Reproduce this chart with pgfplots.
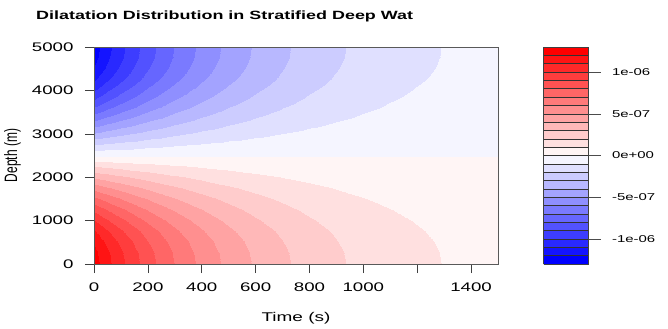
\documentclass[border=0pt]{standalone}
\usepackage{graphicx}
\usepackage{fontspec}
\setmainfont{Liberation Sans}[FakeStretch=1.5]
\newfontfamily\plainfont{Liberation Sans}
\usepackage{pgfplots}
\pgfplotsset{compat=1.18}
\begin{document}
\begin{tikzpicture}
\useasboundingbox (0,0) rectangle (668bp,329bp);
\node[anchor=base west, font=\fontsize{12}{14}\selectfont\bfseries, inner sep=0] at (36bp,309.5bp) {Dilatation Distribution in Stratified Deep Wat};
\begin{axis}[
  at={(94bp,65bp)}, anchor=south west,
  width=404bp, height=217bp, scale only axis,
  xmin=0, xmax=1500, ymin=0, ymax=5000,
  xtick={0,200,400,600,800,1000,1200,1400},
  xticklabels={0,200,400,600,800,1000,,1400},
  ytick={0,1000,2000,3000,4000,5000},
  yticklabels={0,1000,2000,3000,4000,5000},
  tick pos=left, tick align=outside, major tick length=9bp,
  ticklabel style={font=\fontsize{12.5}{14}\selectfont},
  xticklabel shift=6bp, yticklabel shift=8bp,
  axis on top,
  axis line style={black!65, line width=0.8pt},
  tick style={black!75, line width=0.6pt},
  xlabel={Time (s)},
  xlabel style={at={(axis description cs:0.5,-0.2488)}, anchor=center, font=\fontsize{12.7}{14}\selectfont},
  ylabel={\scalebox{1}[1.5]{\plainfont\fontsize{12}{14}\selectfont Depth (m)}},
  ylabel style={at={(axis description cs:-0.2017,0.5)}, anchor=center},
  colormap={bwr}{rgb255=(0,0,255) rgb255=(20,20,255) rgb255=(41,41,255) rgb255=(61,61,255) rgb255=(82,82,255) rgb255=(102,102,255) rgb255=(122,122,255) rgb255=(143,143,255) rgb255=(163,163,255) rgb255=(184,184,255) rgb255=(204,204,255) rgb255=(224,224,255) rgb255=(245,245,255) rgb255=(255,245,245) rgb255=(255,224,224) rgb255=(255,204,204) rgb255=(255,184,184) rgb255=(255,163,163) rgb255=(255,143,143) rgb255=(255,122,122) rgb255=(255,102,102) rgb255=(255,82,82) rgb255=(255,61,61) rgb255=(255,41,41) rgb255=(255,20,20) rgb255=(255,0,0)},
  colormap access=piecewise constant,
  point meta min=-13, point meta max=13,
  colorbar,
  colorbar style={
    at={(parent axis.north east)}, anchor=north west, xshift=37bp,
    width=45bp,
    ytick={-10,-5,0,5,10},
    yticklabels={-1e-06,-5e-07,0e+00,5e-07,1e-06},
    ytick pos=right, yticklabel pos=right,
    tick align=outside, major tick length=12bp,
    yticklabel shift=8bp,
    minor ytick={-13,-12,...,13}, minor tick length=0pt,
    yminorgrids, minor grid style={black!80, line width=0.5pt},
    axis on top,
    axis line style={black!75},
    yticklabel style={font=\fontsize{10}{12}\selectfont},
    tick style={black!70},
  },
]
% dilatation in units of 1e-7 ; columns: time (s), depth (m), value
\addplot[surf, shader=interp, mesh/cols=17, point meta=explicit]
table[row sep=\\, x=t, y=z, meta=v] {
t z v\\
0 0 12.5\\ 50 0 11.333\\ 100 0 10.274\\ 200 0 8.445\\ 300 0 6.941\\ 400 0 5.705\\ 500 0 4.689\\ 600 0 3.854\\ 700 0 3.168\\ 800 0 2.604\\ 900 0 2.140\\ 1000 0 1.759\\ 1100 0 1.446\\ 1200 0 1.189\\ 1300 0 0.977\\ 1400 0 0.803\\ 1500 0 0.660\\
0 250 12.346\\ 50 250 11.193\\ 100 250 10.148\\ 200 250 8.341\\ 300 250 6.856\\ 400 250 5.635\\ 500 250 4.632\\ 600 250 3.807\\ 700 250 3.129\\ 800 250 2.572\\ 900 250 2.114\\ 1000 250 1.738\\ 1100 250 1.428\\ 1200 250 1.174\\ 1300 250 0.965\\ 1400 250 0.793\\ 1500 250 0.652\\
0 500 11.888\\ 50 500 10.778\\ 100 500 9.771\\ 200 500 8.032\\ 300 500 6.601\\ 400 500 5.426\\ 500 500 4.460\\ 600 500 3.666\\ 700 500 3.013\\ 800 500 2.477\\ 900 500 2.036\\ 1000 500 1.673\\ 1100 500 1.375\\ 1200 500 1.130\\ 1300 500 0.929\\ 1400 500 0.764\\ 1500 500 0.628\\
0 750 11.138\\ 50 750 10.097\\ 100 750 9.155\\ 200 750 7.524\\ 300 750 6.185\\ 400 750 5.083\\ 500 750 4.178\\ 600 750 3.434\\ 700 750 2.823\\ 800 750 2.320\\ 900 750 1.907\\ 1000 750 1.567\\ 1100 750 1.288\\ 1200 750 1.059\\ 1300 750 0.870\\ 1400 750 0.715\\ 1500 750 0.588\\
0 1000 10.113\\ 50 1000 9.168\\ 100 1000 8.312\\ 200 1000 6.832\\ 300 1000 5.615\\ 400 1000 4.616\\ 500 1000 3.794\\ 600 1000 3.118\\ 700 1000 2.563\\ 800 1000 2.107\\ 900 1000 1.732\\ 1000 1000 1.423\\ 1100 1000 1.170\\ 1200 1000 0.962\\ 1300 1000 0.790\\ 1400 1000 0.650\\ 1500 1000 0.534\\
0 1250 8.839\\ 50 1250 8.013\\ 100 1250 7.265\\ 200 1250 5.971\\ 300 1250 4.908\\ 400 1250 4.034\\ 500 1250 3.316\\ 600 1250 2.725\\ 700 1250 2.240\\ 800 1250 1.841\\ 900 1250 1.513\\ 1000 1250 1.244\\ 1100 1250 1.022\\ 1200 1250 0.840\\ 1300 1250 0.691\\ 1400 1250 0.568\\ 1500 1250 0.467\\
0 1500 7.347\\ 50 1500 6.661\\ 100 1500 6.039\\ 200 1500 4.964\\ 300 1500 4.080\\ 400 1500 3.353\\ 500 1500 2.756\\ 600 1500 2.266\\ 700 1500 1.862\\ 800 1500 1.531\\ 900 1500 1.258\\ 1000 1500 1.034\\ 1100 1500 0.850\\ 1200 1500 0.699\\ 1300 1500 0.574\\ 1400 1500 0.472\\ 1500 1500 0.388\\
0 1750 5.675\\ 50 1750 5.145\\ 100 1750 4.664\\ 200 1750 3.834\\ 300 1750 3.151\\ 400 1750 2.590\\ 500 1750 2.129\\ 600 1750 1.750\\ 700 1750 1.438\\ 800 1750 1.182\\ 900 1750 0.972\\ 1000 1750 0.799\\ 1100 1750 0.656\\ 1200 1750 0.540\\ 1300 1750 0.444\\ 1400 1750 0.365\\ 1500 1750 0.300\\
0 2000 3.863\\ 50 2000 3.502\\ 100 2000 3.175\\ 200 2000 2.610\\ 300 2000 2.145\\ 400 2000 1.763\\ 500 2000 1.449\\ 600 2000 1.191\\ 700 2000 0.979\\ 800 2000 0.805\\ 900 2000 0.661\\ 1000 2000 0.544\\ 1100 2000 0.447\\ 1200 2000 0.367\\ 1300 2000 0.302\\ 1400 2000 0.248\\ 1500 2000 0.204\\
0 2250 1.955\\ 50 2250 1.773\\ 100 2250 1.607\\ 200 2250 1.321\\ 300 2250 1.086\\ 400 2250 0.892\\ 500 2250 0.734\\ 600 2250 0.603\\ 700 2250 0.496\\ 800 2250 0.407\\ 900 2250 0.335\\ 1000 2250 0.275\\ 1100 2250 0.226\\ 1200 2250 0.186\\ 1300 2250 0.153\\ 1400 2250 0.126\\ 1500 2250 0.103\\
0 2500 0\\ 50 2500 0\\ 100 2500 0\\ 200 2500 0\\ 300 2500 0\\ 400 2500 0\\ 500 2500 0\\ 600 2500 0\\ 700 2500 0\\ 800 2500 0\\ 900 2500 0\\ 1000 2500 0\\ 1100 2500 0\\ 1200 2500 0\\ 1300 2500 0\\ 1400 2500 0\\ 1500 2500 0\\
0 2750 -1.955\\ 50 2750 -1.773\\ 100 2750 -1.607\\ 200 2750 -1.321\\ 300 2750 -1.086\\ 400 2750 -0.892\\ 500 2750 -0.734\\ 600 2750 -0.603\\ 700 2750 -0.496\\ 800 2750 -0.407\\ 900 2750 -0.335\\ 1000 2750 -0.275\\ 1100 2750 -0.226\\ 1200 2750 -0.186\\ 1300 2750 -0.153\\ 1400 2750 -0.126\\ 1500 2750 -0.103\\
0 3000 -3.863\\ 50 3000 -3.502\\ 100 3000 -3.175\\ 200 3000 -2.610\\ 300 3000 -2.145\\ 400 3000 -1.763\\ 500 3000 -1.449\\ 600 3000 -1.191\\ 700 3000 -0.979\\ 800 3000 -0.805\\ 900 3000 -0.661\\ 1000 3000 -0.544\\ 1100 3000 -0.447\\ 1200 3000 -0.367\\ 1300 3000 -0.302\\ 1400 3000 -0.248\\ 1500 3000 -0.204\\
0 3250 -5.675\\ 50 3250 -5.145\\ 100 3250 -4.664\\ 200 3250 -3.834\\ 300 3250 -3.151\\ 400 3250 -2.590\\ 500 3250 -2.129\\ 600 3250 -1.750\\ 700 3250 -1.438\\ 800 3250 -1.182\\ 900 3250 -0.972\\ 1000 3250 -0.799\\ 1100 3250 -0.656\\ 1200 3250 -0.540\\ 1300 3250 -0.444\\ 1400 3250 -0.365\\ 1500 3250 -0.300\\
0 3500 -7.347\\ 50 3500 -6.661\\ 100 3500 -6.039\\ 200 3500 -4.964\\ 300 3500 -4.080\\ 400 3500 -3.353\\ 500 3500 -2.756\\ 600 3500 -2.266\\ 700 3500 -1.862\\ 800 3500 -1.531\\ 900 3500 -1.258\\ 1000 3500 -1.034\\ 1100 3500 -0.850\\ 1200 3500 -0.699\\ 1300 3500 -0.574\\ 1400 3500 -0.472\\ 1500 3500 -0.388\\
0 3750 -8.839\\ 50 3750 -8.013\\ 100 3750 -7.265\\ 200 3750 -5.971\\ 300 3750 -4.908\\ 400 3750 -4.034\\ 500 3750 -3.316\\ 600 3750 -2.725\\ 700 3750 -2.240\\ 800 3750 -1.841\\ 900 3750 -1.513\\ 1000 3750 -1.244\\ 1100 3750 -1.022\\ 1200 3750 -0.840\\ 1300 3750 -0.691\\ 1400 3750 -0.568\\ 1500 3750 -0.467\\
0 4000 -10.113\\ 50 4000 -9.168\\ 100 4000 -8.312\\ 200 4000 -6.832\\ 300 4000 -5.615\\ 400 4000 -4.616\\ 500 4000 -3.794\\ 600 4000 -3.118\\ 700 4000 -2.563\\ 800 4000 -2.107\\ 900 4000 -1.732\\ 1000 4000 -1.423\\ 1100 4000 -1.170\\ 1200 4000 -0.962\\ 1300 4000 -0.790\\ 1400 4000 -0.650\\ 1500 4000 -0.534\\
0 4250 -11.138\\ 50 4250 -10.097\\ 100 4250 -9.155\\ 200 4250 -7.524\\ 300 4250 -6.185\\ 400 4250 -5.083\\ 500 4250 -4.178\\ 600 4250 -3.434\\ 700 4250 -2.823\\ 800 4250 -2.320\\ 900 4250 -1.907\\ 1000 4250 -1.567\\ 1100 4250 -1.288\\ 1200 4250 -1.059\\ 1300 4250 -0.870\\ 1400 4250 -0.715\\ 1500 4250 -0.588\\
0 4500 -11.888\\ 50 4500 -10.778\\ 100 4500 -9.771\\ 200 4500 -8.032\\ 300 4500 -6.601\\ 400 4500 -5.426\\ 500 4500 -4.460\\ 600 4500 -3.666\\ 700 4500 -3.013\\ 800 4500 -2.477\\ 900 4500 -2.036\\ 1000 4500 -1.673\\ 1100 4500 -1.375\\ 1200 4500 -1.130\\ 1300 4500 -0.929\\ 1400 4500 -0.764\\ 1500 4500 -0.628\\
0 4750 -12.346\\ 50 4750 -11.193\\ 100 4750 -10.148\\ 200 4750 -8.341\\ 300 4750 -6.856\\ 400 4750 -5.635\\ 500 4750 -4.632\\ 600 4750 -3.807\\ 700 4750 -3.129\\ 800 4750 -2.572\\ 900 4750 -2.114\\ 1000 4750 -1.738\\ 1100 4750 -1.428\\ 1200 4750 -1.174\\ 1300 4750 -0.965\\ 1400 4750 -0.793\\ 1500 4750 -0.652\\
0 5000 -12.5\\ 50 5000 -11.333\\ 100 5000 -10.274\\ 200 5000 -8.445\\ 300 5000 -6.941\\ 400 5000 -5.705\\ 500 5000 -4.689\\ 600 5000 -3.854\\ 700 5000 -3.168\\ 800 5000 -2.604\\ 900 5000 -2.140\\ 1000 5000 -1.759\\ 1100 5000 -1.446\\ 1200 5000 -1.189\\ 1300 5000 -0.977\\ 1400 5000 -0.803\\ 1500 5000 -0.660\\
};
\end{axis}
\end{tikzpicture}
\end{document}
